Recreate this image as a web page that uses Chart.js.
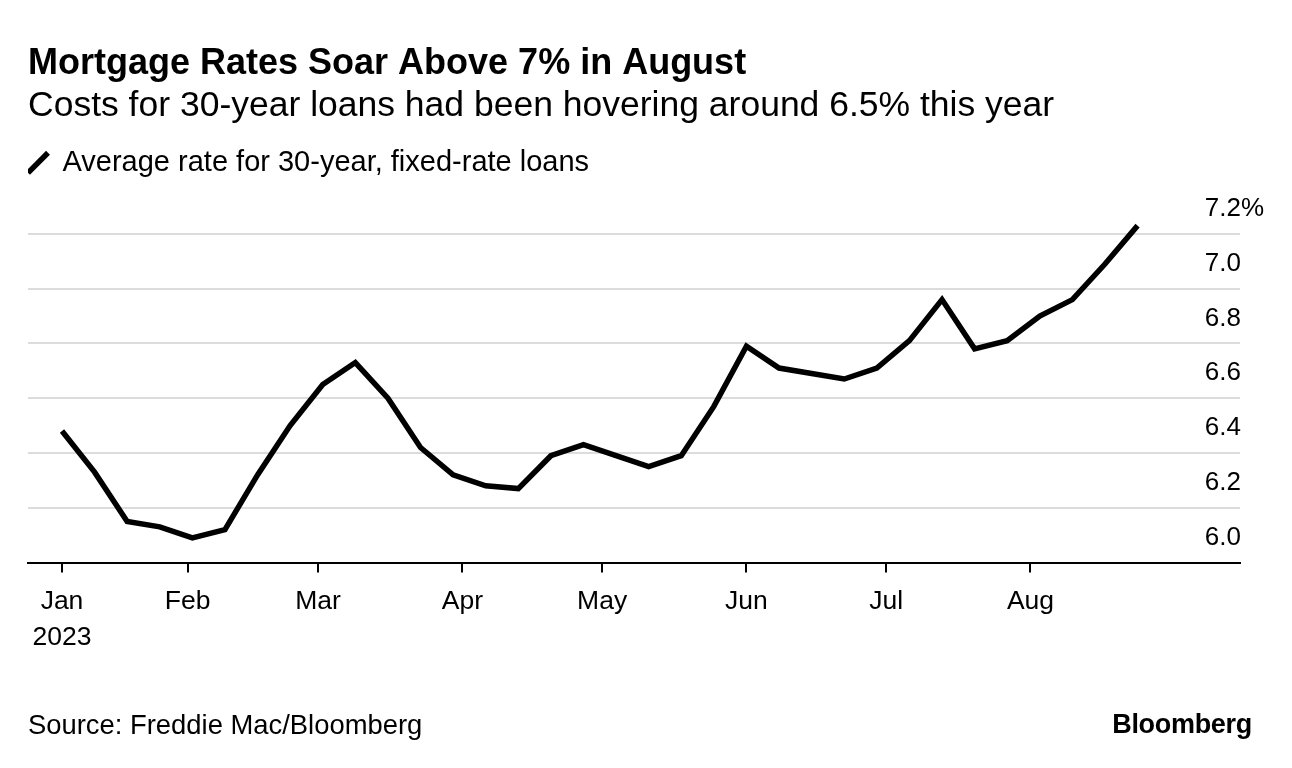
<!DOCTYPE html>
<html lang="en">
<head>
  <meta charset="UTF-8">
  <title>Mortgage Rates Soar Above 7% in August</title>
  <script src="https://cdn.jsdelivr.net/npm/chart.js"></script>
  <style>
    html, body { margin: 0; padding: 0; background: #fff; }
    #wrap { position: relative; width: 1292px; height: 768px; }
    .foot { position: absolute; font-family: "Liberation Sans", Arial, sans-serif; color: #000; line-height: 30px; }
    #source { left: 28px; top: 710px; font-size: 27.4px; }
    #brand { right: 40px; top: 709px; font-size: 27px; font-weight: bold; letter-spacing: -0.3px; }
  </style>
</head>
<body>
  <div id="wrap">
    <canvas id="chart" width="1292" height="768"></canvas>
    <div class="foot" id="source">Source: Freddie Mac/Bloomberg</div>
    <div class="foot" id="brand">Bloomberg</div>
  </div>

  <script>
    // weekly Freddie Mac survey dates and 30-year fixed rate (%)
    const weekDates = [
      '2023-01-05', '2023-01-12', '2023-01-19', '2023-01-26',
      '2023-02-02', '2023-02-09', '2023-02-16', '2023-02-23',
      '2023-03-02', '2023-03-09', '2023-03-16', '2023-03-23', '2023-03-30',
      '2023-04-06', '2023-04-13', '2023-04-20', '2023-04-27',
      '2023-05-04', '2023-05-11', '2023-05-18', '2023-05-25',
      '2023-06-01', '2023-06-08', '2023-06-15', '2023-06-22', '2023-06-29',
      '2023-07-06', '2023-07-13', '2023-07-20', '2023-07-27',
      '2023-08-03', '2023-08-10', '2023-08-17', '2023-08-24'
    ];
    const rates = [
      6.48, 6.33, 6.15, 6.13,
      6.09, 6.12, 6.32, 6.50,
      6.65, 6.73, 6.60, 6.42, 6.32,
      6.28, 6.27, 6.39, 6.43,
      6.39, 6.35, 6.39, 6.57,
      6.79, 6.71, 6.69, 6.67, 6.71,
      6.81, 6.96, 6.78, 6.81,
      6.90, 6.96, 7.09, 7.23
    ];

    // x axis ticks (first tick sits on the first observation)
    const tickDates = ['2023-01-05', '2023-02-01', '2023-03-01', '2023-04-01',
                       '2023-05-01', '2023-06-01', '2023-07-01', '2023-08-01'];
    const tickLabels = [['Jan', '2023'], 'Feb', 'Mar', 'Apr', 'May', 'Jun', 'Jul', 'Aug'];

    // y axis ticks
    const yTicks = [6.0, 6.2, 6.4, 6.6, 6.8, 7.0, 7.2];

    // date string -> days since Jan 1 2023
    function dayNum(s) {
      const p = s.split('-').map(Number);
      return (Date.UTC(p[0], p[1] - 1, p[2]) - Date.UTC(2023, 0, 1)) / 86400000;
    }

    const points = weekDates.map((d, i) => ({ x: dayNum(d), y: rates[i] }));
    const tickDays = tickDates.map(dayNum);

    const fontFamily = '"Liberation Sans", Arial, sans-serif';

    const config = {
      type: 'line',
      data: {
        datasets: [{
          label: 'Average rate for 30-year, fixed-rate loans',
          data: points,
          borderColor: '#000',
          backgroundColor: '#000',
          borderWidth: 5.5,
          borderJoinStyle: 'miter',
          pointRadius: 0,
          pointHoverRadius: 0,
          pointStyle: 'line',
          pointRotation: -45,
          tension: 0
        }]
      },
      options: {
        responsive: false,
        animation: false,
        layout: {
          padding: { left: 28, right: 4, top: 0, bottom: 101 }
        },
        plugins: {
          title: {
            display: true,
            text: 'Mortgage Rates Soar Above 7% in August',
            align: 'start',
            color: '#000',
            font: { family: fontFamily, size: 36, weight: 'bold', lineHeight: 1.2 },
            padding: { top: 42, bottom: 0 }
          },
          subtitle: {
            display: true,
            text: 'Costs for 30-year loans had been hovering around 6.5% this year',
            align: 'start',
            color: '#000',
            font: { family: fontFamily, size: 35.5, lineHeight: 1.2 },
            padding: { top: 0, bottom: 20.5 }
          },
          legend: {
            display: true,
            align: 'start',
            labels: {
              usePointStyle: true,
              pointStyle: 'line',
              pointStyleWidth: 20,
              boxHeight: 20,
              boxWidth: 20,
              padding: 0,
              color: '#000',
              font: { family: fontFamily, size: 29 }
            }
          },
          tooltip: { enabled: false }
        },
        scales: {
          x: {
            type: 'linear',
            min: -3.3,
            max: 257,
            afterBuildTicks: axis => {
              axis.ticks = tickDays.map(v => ({ value: v }));
            },
            ticks: {
              autoSkip: false,
              maxRotation: 0,
              padding: 12,
              color: '#000',
              font: { family: fontFamily, size: 26.5, lineHeight: 1.33 },
              callback: (value, index) => tickLabels[index]
            },
            grid: {
              drawOnChartArea: false,
              drawTicks: true,
              tickLength: 10,
              color: '#000',
              lineWidth: 2
            },
            border: { display: true, color: '#000', width: 2 }
          },
          y: {
            type: 'linear',
            position: 'right',
            min: 6.0,
            max: 7.37,
            afterBuildTicks: axis => {
              axis.ticks = yTicks.map(v => ({ value: v }));
            },
            ticks: {
              mirror: true,
              crossAlign: 'far',
              padding: 24,
              labelOffset: -25,
              color: '#000',
              font: { family: fontFamily, size: 26 },
              callback: (value, index) => value.toFixed(1) + (index === yTicks.length - 1 ? '%' : '')
            },
            grid: {
              drawTicks: false,
              lineWidth: 2,
              color: ctx => (ctx.tick && ctx.tick.value === 6.0) ? 'rgba(0,0,0,0)' : '#dcdcdc'
            },
            border: { display: false }
          }
        }
      }
    };

    const ctx = document.getElementById('chart').getContext('2d');
    new Chart(ctx, config);
  </script>
</body>
</html>
